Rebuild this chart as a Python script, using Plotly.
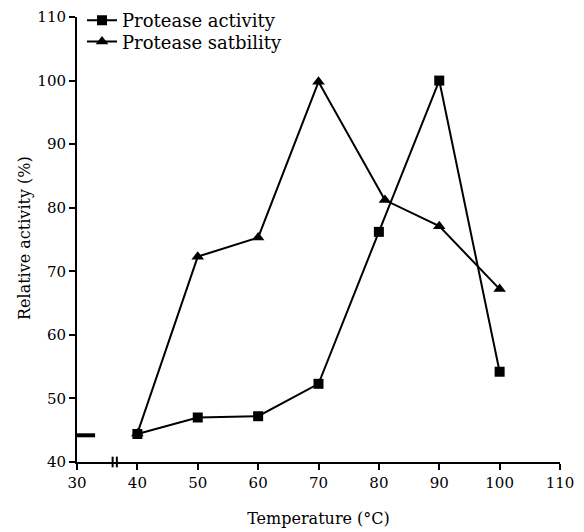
import plotly.graph_objects as go

temperature = [40, 50, 60, 70, 80, 90, 100]
activity = [44.4, 47.0, 47.2, 52.3, 76.2, 100.0, 54.2]
stability_temp = [40, 50, 60, 70, 81, 90, 100]
stability = [44.5, 72.3, 75.3, 99.8, 81.2, 77.1, 67.2]
stub_x = [30, 33]
stub_y = [44.2, 44.2]
x_ticks = [30, 40, 50, 60, 70, 80, 90, 100, 110]
y_ticks = [40, 50, 60, 70, 80, 90, 100, 110]

font = "DejaVu Serif, serif"

fig = go.Figure()
fig.add_trace(go.Scatter(x=temperature, y=activity, mode="lines+markers",
                         name="Protease activity", legend="legend",
                         line=dict(color="black", width=2),
                         marker=dict(symbol="square", size=10, color="black")))
fig.add_trace(go.Scatter(x=stability_temp, y=stability, mode="lines+markers",
                         name="Protease satbility", legend="legend2",
                         line=dict(color="black", width=2),
                         marker=dict(symbol="triangle-up", size=11, color="black")))
fig.add_trace(go.Scatter(x=stub_x, y=stub_y, mode="lines", showlegend=False,
                         line=dict(color="black", width=4), hoverinfo="skip"))

# axis break marks
for xb in [35.9, 36.6]:
    fig.add_shape(type="line", xref="x", yref="paper", x0=xb, x1=xb, y0=-0.012, y1=0.012,
                  line=dict(color="black", width=2))

fig.add_annotation(text="Relative activity (%)", xref="paper", yref="paper",
                   x=(24 - 77) / 483, y=(462 - 238) / 445, textangle=-90, showarrow=False,
                   font=dict(size=16, family=font), xanchor="center", yanchor="middle")

leg_common = dict(xref="container", yref="container", xanchor="left", yanchor="top",
                  bgcolor="rgba(0,0,0,0)", font=dict(size=18, family=font),
                  itemwidth=30, tracegroupgap=0)

fig.update_layout(
    width=584, height=532,
    margin=dict(l=77, r=24, t=17, b=70, autoexpand=False),
    paper_bgcolor="white", plot_bgcolor="white",
    font=dict(family=font, size=15, color="black"),
    showlegend=True,
    legend=dict(x=82 / 584, y=0.996, **leg_common),
    legend2=dict(x=82 / 584, y=0.956, **leg_common),
    xaxis=dict(range=[30, 110], tickvals=x_ticks, showgrid=False, zeroline=False,
               showline=True, linecolor="black", linewidth=2,
               ticks="outside", ticklen=6, tickwidth=2, tickcolor="black",
               tickfont=dict(size=15),
               title=dict(text="Temperature (°C)", font=dict(size=16), standoff=22)),
    yaxis=dict(range=[40, 110], tickvals=y_ticks, showgrid=False, zeroline=False,
               showline=True, linecolor="black", linewidth=2,
               ticks="outside", ticklen=6, tickwidth=2, tickcolor="black",
               tickfont=dict(size=15)),
)

fig.write_html("out.html")
